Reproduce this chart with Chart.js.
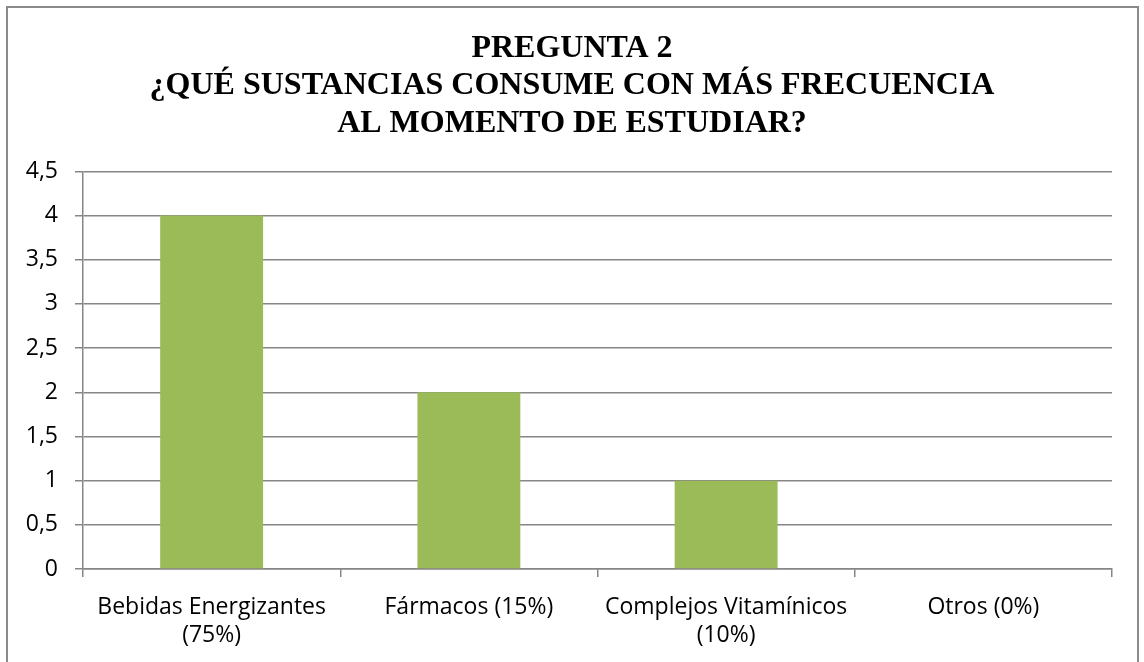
<!DOCTYPE html>
<html>
<head>
<meta charset="utf-8">
<script src="https://cdn.jsdelivr.net/npm/chart.js"></script>
<style>
  html, body { margin: 0; padding: 0; background: #fff; }
  #wrap { position: relative; width: 1144px; height: 662px; overflow: hidden; }
  #frame { position: absolute; left: 6px; top: 6px; width: 1133px; height: 700px; border: 2px solid #8a8a8a; box-sizing: border-box; }
  canvas { position: absolute; left: 0; top: 0; }
</style>
</head>
<body>
<div id="wrap">
  <div id="frame"></div>
  <canvas id="chart" width="1144" height="662"></canvas>
</div>
<script>
// chart data
const titleLines = ['PREGUNTA 2', '¿QUÉ SUSTANCIAS CONSUME CON MÁS FRECUENCIA', 'AL MOMENTO DE ESTUDIAR?'];
const categories = [['Bebidas Energizantes', '(75%)'], 'Fármacos (15%)', ['Complejos Vitamínicos', '(10%)'], 'Otros (0%)'];
const values = [4, 2, 1, 0];
const yTicks = [0, 0.5, 1, 1.5, 2, 2.5, 3, 3.5, 4, 4.5];

const gridColor = '#868686';
const labelFont = { family: '"Open Sans", Lato, sans-serif', size: 23, lineHeight: 1.22 };

const ctx = document.getElementById('chart');
new Chart(ctx, {
    type: 'bar',
    data: {
        labels: categories,
        datasets: [{
            data: values,
            backgroundColor: '#9bbb59',
            borderWidth: 0,
            categoryPercentage: 1,
            barPercentage: 0.4
        }]
    },
    options: {
        responsive: false,
        animation: false,
        layout: { padding: { left: 0, right: 0, top: 22, bottom: 0 } },
        plugins: {
            legend: { display: false },
            tooltip: { enabled: false },
            title: {
                display: true,
                text: titleLines,
                color: '#000',
                font: { family: '"Liberation Serif", "Times New Roman", serif', size: 32, weight: 'bold', lineHeight: 1.17 },
                padding: { top: 8, bottom: 29 }
            }
        },
        scales: {
            x: {
                afterFit: (scale) => { scale.height = 93; },
                grid: { display: true, drawOnChartArea: false, offset: true, color: gridColor, lineWidth: 1.5, tickLength: 8 },
                border: { display: true, color: gridColor, width: 1.5 },
                ticks: { color: '#000', font: labelFont, padding: 16, maxRotation: 0, autoSkip: false }
            },
            y: {
                min: 0,
                max: 4.5,
                afterBuildTicks: (scale) => { scale.ticks = yTicks.map(v => ({ value: v })); },
                afterFit: (scale) => { scale.width = 83; },
                grid: { color: gridColor, lineWidth: 1.5, tickLength: 8 },
                border: { display: true, color: gridColor, width: 1.5 },
                ticks: {
                    color: '#000',
                    font: labelFont,
                    padding: 17,
                    callback: (v) => String(v).replace('.', ',')
                }
            },
            // empty right-hand spacer so the plot ends where the reference does
            spacer: {
                type: 'linear',
                position: 'right',
                afterFit: (scale) => { scale.width = 32; },
                grid: { display: false },
                border: { display: false },
                ticks: { display: false }
            }
        }
    }
});
</script>
</body>
</html>
